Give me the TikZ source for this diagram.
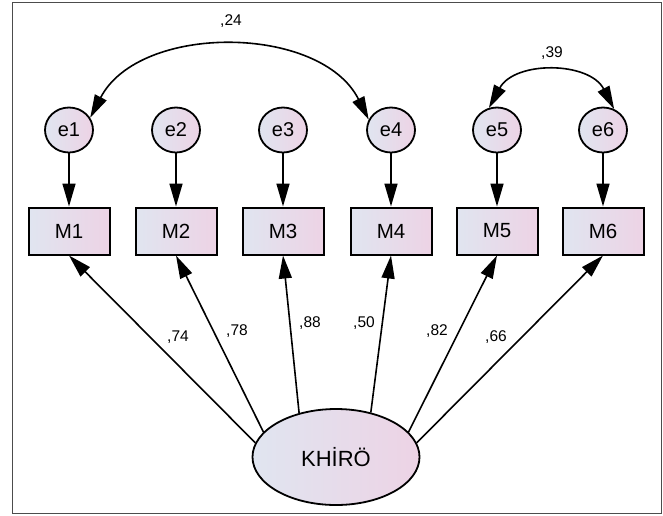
\documentclass[tikz,border=0pt]{standalone}
\usepackage{fontspec}
\setmainfont{Liberation Sans}
\usetikzlibrary{arrows.meta,shapes.geometric}
\definecolor{shadeblue}{HTML}{E0E5F0}
\definecolor{shadepink}{HTML}{EDD3E5}
\begin{document}
\begin{tikzpicture}[x=1pt,y=-1pt]

\tikzset{
  obs/.style = {draw, line width=2pt, minimum width=81pt, minimum height=47pt,
    left color=shadeblue, right color=shadepink, font=\fontsize{20.5}{20.5}\selectfont},
  err/.style = {ellipse, draw, line width=1.8pt, minimum width=48pt, minimum height=45pt,
    inner sep=0pt, left color=shadeblue, right color=shadepink, font=\fontsize{20}{20}\selectfont},
  lat/.style = {ellipse, draw, line width=1.8pt, minimum width=167pt, minimum height=96pt,
    left color=shadeblue, right color=shadepink, font=\fontsize{22}{22}\selectfont},
  load/.style = {-{Triangle[length=23pt,width=13pt]}, line width=1.6pt},
  cov/.style = {{Triangle[length=23pt,width=13pt]}-{Triangle[length=23pt,width=13pt]}, line width=1.6pt},
  est/.style = {font=\fontsize{15.5}{15.5}\selectfont, inner sep=0pt}
}

\useasboundingbox (0,0) rectangle (663,515);
\draw[gray!60!black, line width=1pt] (12,2) rectangle (661,513);

\foreach \i/\x in {1/69,2/176,3/283,4/391,5/497,6/603}{
  \node[err] (e\i) at (\x,130) {e\i};
  \node[obs] (M\i) at (\x,231) {M\i};
  \draw[load] (e\i) -- (M\i);
}

\node[lat] (K) at (336,457) {KHİRÖ};

\foreach \i/\a in {1/170,2/161,3/130,4/52,5/19,6/10}
  \draw[load] (K.\a) -- (M\i.south);

\node[est] (l1) at (178,337) {,74};
\node[est] (l2) at (237,331) {,78};
\node[est] (l3) at (310,323) {,88};
\node[est] (l4) at (364,323) {,50};
\node[est] (l5) at (437,331) {,82};
\node[est] (l6) at (496,337) {,66};

\draw[cov] (e1.30) to[bend left=63, looseness=0.98] (e4.155);
\draw[cov] (e5.110) to[bend left=62, looseness=1.1] (e6.62);
\node[est] (c14) at (231,21) {,24};
\node[est] (c56) at (552,53) {,39};

\end{tikzpicture}
\end{document}
